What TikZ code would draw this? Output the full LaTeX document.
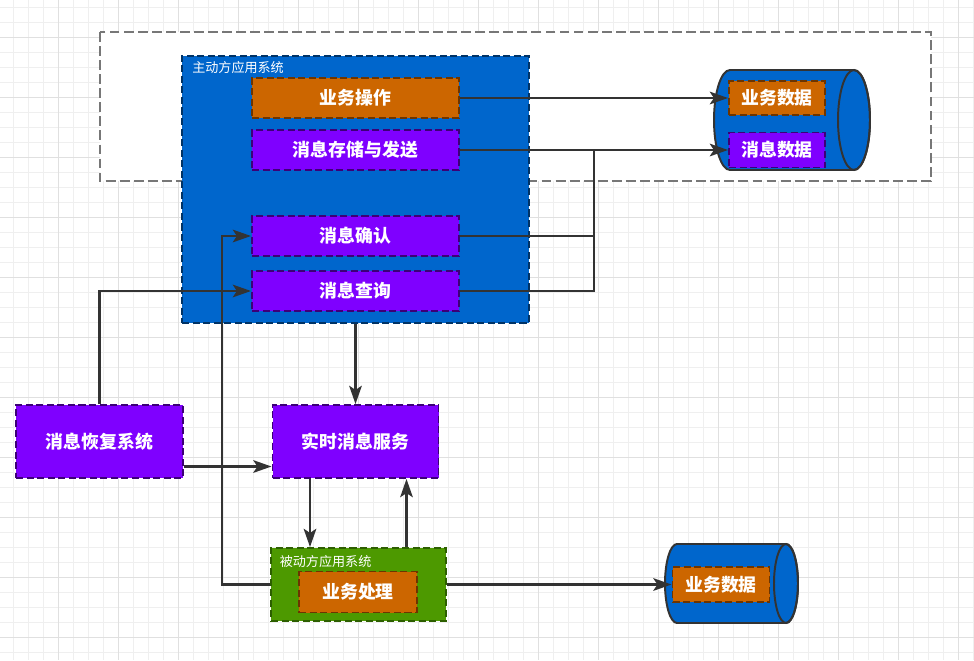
\documentclass[tikz,border=0pt]{standalone}
\usepackage{fontspec}
\newfontfamily\cjk{Noto Sans CJK SC}
\usetikzlibrary{arrows.meta}
\definecolor{colBlue}{HTML}{0066CC}
\definecolor{colBlueD}{HTML}{003366}
\definecolor{colOrange}{HTML}{CC6600}
\definecolor{colOrangeD}{HTML}{6D3500}
\definecolor{colPurple}{HTML}{7F00FF}
\definecolor{colPurpleD}{HTML}{3C0077}
\definecolor{colGreen}{HTML}{4D9900}
\definecolor{colGreenD}{HTML}{2D5F00}
\definecolor{colLine}{HTML}{333333}
\definecolor{colFrame}{HTML}{777777}
\definecolor{colGridA}{HTML}{EFEFEF}
\definecolor{colGridB}{HTML}{E0E0E0}
\def\pxu{0.025cm}

\begin{document}
\begin{tikzpicture}[x=0.025cm, y=-0.025cm,
    wh/.style 2 args={minimum width=#1*\pxu, minimum height=#2*\pxu},
    boxbase/.style={rectangle, inner sep=0pt, line width=1.4pt,
        dash pattern=on 5pt off 2.5pt, text=white,
        font=\cjk\bfseries\fontsize{12.7}{15}\selectfont},
    orangebox/.style={boxbase, fill=colOrange, draw=colOrangeD},
    purplebox/.style={boxbase, fill=colPurple, draw=colPurpleD},
    lbl/.style={anchor=west, text=white, inner sep=0pt,
        font=\cjk\fontsize{9.3}{11}\selectfont},
    conn/.style={draw=colLine, line width=1.5pt},
    arr/.style={conn, -{Stealth[length=13pt, width=9pt, inset=3pt]}}]

\useasboundingbox (0,0) rectangle (974,660);
\fill[white] (0,0) rectangle (974,660);

% Grille de fond
\foreach \i in {0,...,64} {
    \draw[colGridA, line width=0.7pt] (13.3+15*\i, 0) -- ++(0,660);
}
\foreach \j in {0,...,43} {
    \draw[colGridA, line width=0.7pt] (0, 7.3+15*\j) -- ++(974,0);
}
\foreach \i in {0,...,15} {
    \draw[colGridB, line width=0.7pt] (58.3+60*\i, 0) -- ++(0,660);
}
\foreach \j in {0,...,10} {
    \draw[colGridB, line width=0.7pt] (0, 37.3+60*\j) -- ++(974,0);
}

% Cadre pointillé
\draw[colFrame, fill=white, line width=1.4pt, dash pattern=on 7pt off 3pt]
    (100,32) rectangle (931,181);

% Système applicatif actif
\node[boxbase, fill=colBlue, draw=colBlueD, wh={347}{267}]
    (active) at (355.5,189.5) {};
\node[lbl] (activelbl) at (192,68) {主动方应用系统};
\node[orangebox, wh={207}{40}] (op)    at (355.5,98)  {业务操作};
\node[purplebox, wh={207}{40}] (store) at (355.5,150) {消息存储与发送};
\node[purplebox, wh={207}{40}] (ack)   at (355.5,236) {消息确认};
\node[purplebox, wh={207}{40}] (query) at (355.5,291) {消息查询};

% Base de données (haut)
\filldraw[fill=colBlue, draw=colLine, line width=1.4pt]
    (730,70) -- (854,70) arc[start angle=-90, end angle=90, x radius=16, y radius=50]
    -- (730,170) arc[start angle=90, end angle=270, x radius=16, y radius=50] -- cycle;
\draw[colLine, line width=1.4pt] (854,120) ellipse [x radius=16, y radius=50];
\node[orangebox, wh={96}{34}] (bizdata) at (777,98)  {业务数据};
\node[purplebox, wh={96}{35}] (msgdata) at (777,150) {消息数据};

% Systèmes de messages
\node[purplebox, wh={167}{73}] (restore) at (99.5,441.5) {消息恢复系统};
\node[purplebox, wh={166}{73}] (rt)      at (355.5,441.5) {实时消息服务};

% Système applicatif passif
\node[boxbase, fill=colGreen, draw=colGreenD, wh={175}{73}]
    (passive) at (358.5,584.5) {};
\node[lbl] (passivelbl) at (279.5,561.5) {被动方应用系统};
\node[orangebox, wh={118}{41}] (handle) at (358,592) {业务处理};

% Base de données (bas)
\filldraw[fill=colBlue, draw=colLine, line width=1.4pt]
    (677,544) -- (786,544) arc[start angle=-90, end angle=90, x radius=12, y radius=39.5]
    -- (677,623) arc[start angle=90, end angle=270, x radius=12, y radius=39.5] -- cycle;
\draw[colLine, line width=1.4pt] (786,583.5) ellipse [x radius=12, y radius=39.5];
\node[orangebox, wh={97}{35}] (bizdata2) at (721,584.5) {业务数据};

% Points de passage
\coordinate (mx)  at (594,0);
\coordinate (lx)  at (222,0);
\coordinate (ry)  at (0,466.5);
\coordinate (dx1) at (310,0);
\coordinate (dx2) at (406.5,0);

% Connexions
\draw[arr] (op.east) -- (bizdata.west);
\draw[arr] (store.east) -- (msgdata.west);
\draw[conn] (ack.east) -| (mx |- store.east);
\draw[conn] (query.east) -| (mx |- store.east);
\draw[arr] (restore.north) |- (query.west);
\draw[arr] (restore.east |- ry) -- (rt.west |- ry);
\draw[arr] (active.south) -- (rt.north);
\draw[arr] (rt.south -| dx1) -- (passive.north -| dx1);
\draw[arr] (passive.north -| dx2) -- (rt.south -| dx2);
\draw[arr] (passive.west) -| (lx |- ack.west) -- (ack.west);
\draw[arr] (passive.east) -- (bizdata2.west);

\end{tikzpicture}
\end{document}
